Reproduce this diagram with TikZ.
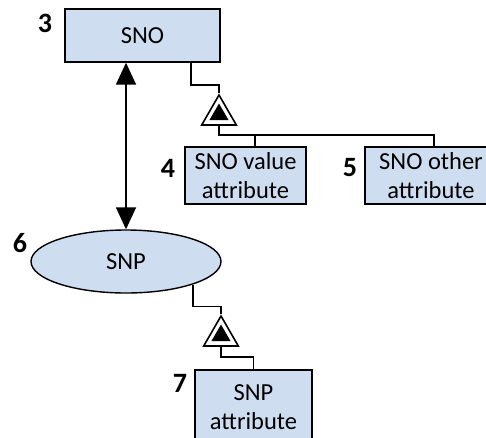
\documentclass[tikz,border=0pt]{standalone}
\usepackage{fontspec}
\setmainfont{Carlito}
\usetikzlibrary{arrows.meta,shapes.geometric}
\definecolor{boxfill}{RGB}{207,221,240}
\begin{document}
\begin{tikzpicture}[x=1pt,y=-1pt,line width=1.6pt,
  entity/.style={draw,line width=1.4pt,fill=boxfill,inner sep=0pt,align=center,font=\fontsize{24.5}{29}\selectfont},
  num/.style={inner sep=0pt,font=\fontsize{28}{30}\selectfont\bfseries},
  aggr/.style={draw,fill=white,regular polygon,regular polygon sides=3,minimum size=40pt,inner sep=0pt},
  aggrin/.style={fill=black,regular polygon,regular polygon sides=3,minimum size=22pt,inner sep=0pt},
  link/.style={{Triangle[width=20pt,length=22pt]}-{Triangle[width=20pt,length=22pt]}}]
\useasboundingbox (0,0) rectangle (486,437);
\node [entity,minimum width=155pt,minimum height=53pt] (sno) at (142.5,35.5) {SNO};
\node [num] (n3) at (45,23) {3};
\node [entity,minimum width=121pt,minimum height=57pt] (snov) at (245.5,175.5) {SNO value\\attribute};
\node [num] (n4) at (168,168) {4};
\node [entity,minimum width=132pt,minimum height=57pt] (snoo) at (431,175.5) {SNO other\\attribute};
\node [num] (n5) at (350,168) {5};
\node [entity,ellipse,minimum width=190pt,minimum height=63pt] (snp) at (126,261.5) {SNP};
\node [num] (n6) at (20,243) {6};
\node [entity,minimum width=117pt,minimum height=74pt] (snpa) at (253.5,407) {SNP\\attribute};
\node [num] (n7) at (180,383) {7};
% aggregation marks
\node [aggr] (tri1) at (219,115) {};
\node [aggrin] (tri1in) at (219,114.5) {};
\node [aggr] (tri2) at (221,336) {};
\node [aggrin] (tri2in) at (221,335.5) {};
\coordinate (b4) at (255,135);
\coordinate (b5) at (434,135);
\coordinate (k7) at (221,357);
% connectors
\draw [link] (snp.north |- sno.south) -- (snp.north);
\draw ([xshift=-30pt]sno.south east) -- ++(0,22) -| (tri1.north);
\draw (tri1.south) |- (b5) -- (b5 |- snoo.north);
\draw (b4) -- (b4 |- snov.north);
\draw (snp.-19) -- ++(0,22) -| (tri2.north);
\draw (tri2.south) -- (k7) -| (snpa.north);
\end{tikzpicture}
\end{document}
